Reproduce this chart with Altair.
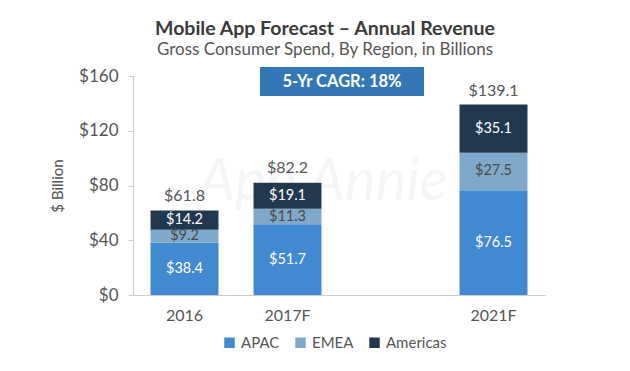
import altair as alt
import pandas as pd

years = ["2016", "2017F", "2021F"]
domain_years = ["2016", "2017F", " ", "2021F"]
regions = ["APAC", "EMEA", "Americas"]
apac = [38.4, 51.7, 76.5]
emea = [9.2, 11.3, 27.5]
americas = [14.2, 19.1, 35.1]
totals = [61.8, 82.2, 139.1]
colors = ["#4189d0", "#7fa9cb", "#21384e"]

rows = []
for i, y in enumerate(years):
    for k, (r, vals) in enumerate(zip(regions, [apac, emea, americas])):
        rows.append({"year": y, "region": r, "value": vals[i], "order": k})
df = pd.DataFrame(rows)
tot = pd.DataFrame({"year": years, "total": totals})

FONT = "Lato"
W, H = 412, 219

xenc = alt.X("year:N", scale=alt.Scale(domain=domain_years, paddingInner=0.34, paddingOuter=0.17),
             axis=alt.Axis(title=None, labelAngle=0, ticks=False, labelFontSize=16, labelColor="#555555",
                           labelPadding=12, domainColor="#cccccc", labelFont=FONT))
yscale = alt.Scale(domain=[0, 160])

base = alt.Chart(df).transform_stack(
    stack="value", groupby=["year"], as_=["v0", "v1"], sort=[alt.SortField("order")]
).transform_calculate(mid="(datum.v0 + datum.v1) / 2", lab="'$' + format(datum.value, '.1f')")

bars = base.mark_bar().encode(
    x=xenc,
    y=alt.Y("v0:Q", scale=yscale,
            axis=alt.Axis(title="$ Billion", values=[0, 40, 80, 120, 160], format="$.0f", grid=False,
                          tickSize=5, tickColor="#cccccc", domainColor="#cccccc", labelFontSize=17,
                          labelColor="#555555", labelPadding=10, titleFontSize=15, titleColor="#555555",
                          titleFontWeight="normal", titlePadding=13, labelFont=FONT, titleFont=FONT)),
    y2="v1:Q",
    color=alt.Color("region:N", scale=alt.Scale(domain=regions, range=colors),
                    legend=alt.Legend(title=None, orient="none", direction="horizontal", legendX=89,
                                      legendY=259, symbolType="square", symbolSize=110, labelFontSize=15,
                                      labelColor="#555555", columnPadding=13, symbolStrokeWidth=0,
                                      labelFont=FONT, symbolOffset=0, labelOffset=4)),
)

seg_labels = base.mark_text(font=FONT, fontSize=14.5).encode(
    x=alt.X("year:N", scale=alt.Scale(domain=domain_years)),
    y=alt.Y("mid:Q", scale=yscale),
    text="lab:N",
    color=alt.condition(alt.datum.region == "EMEA", alt.value("#4a4a4a"), alt.value("#ffffff")),
)

tot_labels = alt.Chart(tot).transform_calculate(
    lab="'$' + format(datum.total, '.1f')"
).mark_text(font=FONT, fontSize=16, color="#555555", baseline="bottom", dy=-6).encode(
    x=alt.X("year:N", scale=alt.Scale(domain=domain_years)),
    y=alt.Y("total:Q", scale=yscale),
    text="lab:N",
)

one = alt.Chart(pd.DataFrame({"t": ["5-Yr CAGR: 18%"]}))
box = one.mark_rect(color="#3377b6").encode(
    x=alt.value(127), x2=alt.value(291), y=alt.value(-9), y2=alt.value(20)
)
box_text = one.mark_text(font=FONT, fontSize=16.5, fontWeight="bold", color="#ffffff").encode(
    x=alt.value(209), y=alt.value(5.5), text="t:N"
)

water = alt.Chart(pd.DataFrame({"t": ["App Annie"]})).mark_text(
    font=FONT, fontSize=58, fontStyle="italic", color="#f4f6f6", baseline="alphabetic"
).encode(x=alt.value(190), y=alt.value(124), text="t:N")

title = alt.Chart(pd.DataFrame({"t": ["Mobile App Forecast – Annual Revenue"]})).mark_text(
    font=FONT, fontSize=19.5, fontWeight="bold", color="#3a3a3a", baseline="alphabetic"
).encode(x=alt.value(192), y=alt.value(-41), text="t:N")
subtitle = alt.Chart(pd.DataFrame({"t": ["Gross Consumer Spend, By Region, in Billions"]})).mark_text(
    font=FONT, fontSize=17, color="#555555", baseline="alphabetic"
).encode(x=alt.value(192), y=alt.value(-21), text="t:N")

chart = alt.layer(water, bars, seg_labels, tot_labels, box, box_text, title, subtitle).properties(
    width=W, height=H,
    autosize=alt.AutoSizeParams(type="none"),
    padding={"left": 125, "top": 68, "right": 77, "bottom": 68},
).configure_view(stroke=None)

chart.save("out.html", embed_options={"renderer": "svg", "actions": False})
